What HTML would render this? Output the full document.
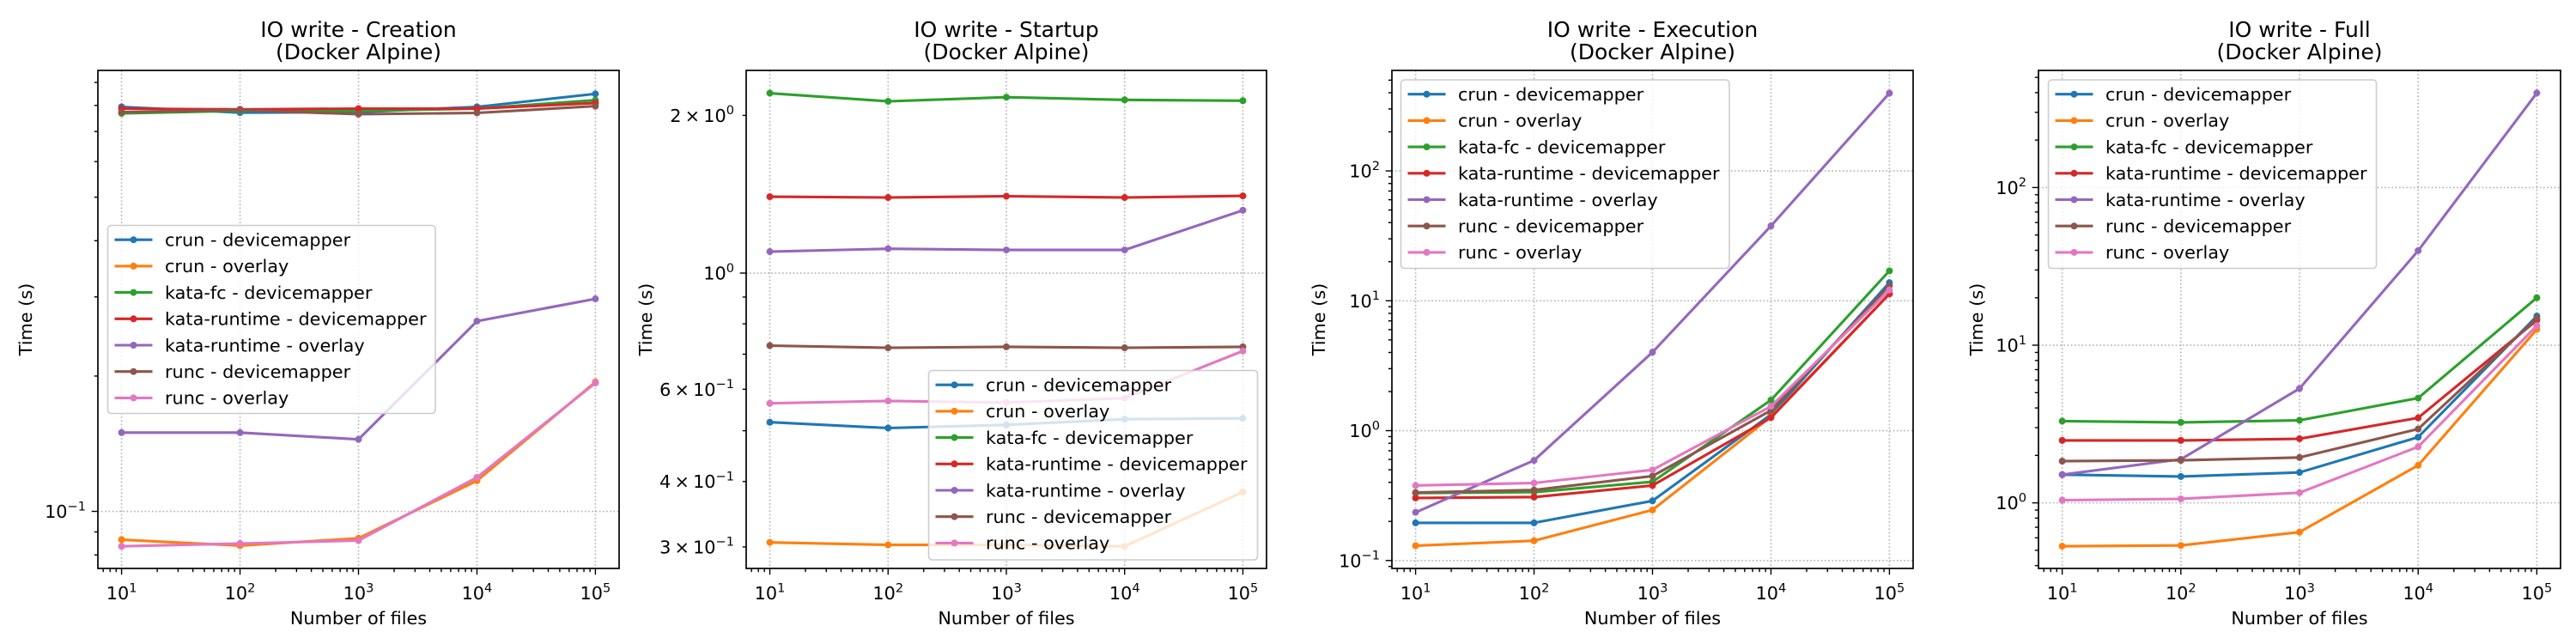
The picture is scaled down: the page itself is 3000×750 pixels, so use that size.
<!DOCTYPE html>
<html><head><meta charset="utf-8"><style>
html,body{margin:0;padding:0;background:#fff;}
svg{display:block;font-family:"DejaVu Sans","Liberation Sans",sans-serif;}
</style></head><body>
<svg id="fig" width="3000" height="750" viewBox="0 0 3000 750" xmlns="http://www.w3.org/2000/svg"></svg>
<script>
const xValues = [10, 100, 1000, 10000, 100000];
const seriesNames = ["crun - devicemapper","crun - overlay","kata-fc - devicemapper","kata-runtime - devicemapper","kata-runtime - overlay","runc - devicemapper","runc - overlay"];
const seriesColors = ["#1f77b4","#ff7f0e","#2ca02c","#d62728","#9467bd","#8c564b","#e377c2"];
const panelTitles = ["IO write - Creation","IO write - Startup","IO write - Execution","IO write - Full"];
const creationData = [
 [0.794,0.771,0.773,0.794,0.849],
 [0.0865,0.0839,0.0871,0.117,0.194],
 [0.768,0.778,0.778,0.787,0.822],
 [0.787,0.784,0.787,0.787,0.810],
 [0.1497,0.1497,0.1446,0.265,0.297],
 [0.773,0.781,0.765,0.770,0.797],
 [0.0836,0.0848,0.0861,0.119,0.193]];
const startupData = [
 [0.519,0.506,0.513,0.526,0.528],
 [0.306,0.3026,0.3026,0.3007,0.382],
 [2.206,2.128,2.167,2.142,2.134],
 [1.399,1.394,1.402,1.394,1.404],
 [1.099,1.113,1.107,1.107,1.318],
 [0.727,0.720,0.723,0.720,0.723],
 [0.564,0.570,0.566,0.577,0.710]];
const executionData = [
 [0.195,0.195,0.288,1.33,13.8],
 [0.130,0.142,0.245,1.28,11.3],
 [0.331,0.336,0.404,1.72,17.0],
 [0.303,0.308,0.378,1.26,11.3],
 [0.235,0.59,4.02,37.7,397],
 [0.334,0.349,0.447,1.43,13.1],
 [0.378,0.395,0.499,1.54,12.1]];
const fullData = [
 [1.51,1.47,1.56,2.61,15.3],
 [0.531,0.537,0.652,1.73,12.6],
 [3.30,3.24,3.34,4.62,20.0],
 [2.49,2.49,2.55,3.46,14.4],
 [1.51,1.89,5.31,39.8,398],
 [1.84,1.86,1.94,2.94,14.8],
 [1.04,1.06,1.16,2.27,13.3]];
const xTickExps = [1,2,3,4,5];
const creationYTicks = [[-1,"10","−1"]];
const startupYTicks = [[Math.log10(2),"2\u2009×\u200910","0"],[0,"10","0"],[Math.log10(0.6),"6\u2009×\u200910","−1"],[Math.log10(0.4),"4\u2009×\u200910","−1"],[Math.log10(0.3),"3\u2009×\u200910","−1"]];
const executionYTicks = [[-1,"10","−1"],[0,"10","0"],[1,"10","1"],[2,"10","2"]];
const fullYTicks = [[0,"10","0"],[1,"10","1"],[2,"10","2"]];

const panels = [
 {data:creationData, yt:creationYTicks, L:114,R:721,T:82,B:662, ylo:-1.127, yhi:-0.019, ylx:30, leg:[125.5,262.5,381.5,219], grid:[-1]},
 {data:startupData, yt:startupYTicks, L:869,R:1475,T:82,B:662, ylo:-0.564, yhi:0.387, ylx:752, leg:[1081.5,431.5,383,220.5], grid:[0]},
 {data:executionData, yt:executionYTicks, L:1621,R:2228,T:82,B:662, ylo:-1.061, yhi:2.774, ylx:1536, leg:[1631.5,93,382.5,219.5], grid:[-1,0,1,2]},
 {data:fullData, yt:fullYTicks, L:2374,R:2982,T:82,B:662, ylo:-0.416, yhi:2.743, ylx:2302, leg:[2385.5,93,382,219.5], grid:[0,1,2]}
];
const NS="http://www.w3.org/2000/svg";
const svg=document.getElementById('fig');
function mk(tag,attrs,parent){const e=document.createElementNS(NS,tag);for(const k in attrs)e.setAttribute(k,attrs[k]);(parent||svg).appendChild(e);return e;}
function mathText(parent,x,y,base,sup,anchor,size){
  const t=mk('text',{x:x,y:y,'font-size':size,'text-anchor':anchor,fill:'#000'},parent);
  const a=mk('tspan',{},t);a.textContent=base;
  const b=mk('tspan',{dy:-size*0.42,'font-size':size*0.7},t);b.textContent=sup;
  return t;
}
panels.forEach((p,pi)=>{
  const g=mk('g',{});
  
  
  const xlo=0.8,xhi=5.2;
  const X=v=>p.L+(Math.log10(v)-xlo)/(xhi-xlo)*(p.R-p.L);
  const XL=l=>p.L+(l-xlo)/(xhi-xlo)*(p.R-p.L);
  const YL=l=>p.B-(l-p.ylo)/(p.yhi-p.ylo)*(p.B-p.T);
  const Y=v=>YL(Math.log10(v));
  xTickExps.forEach(e=>{const gl=mk('line',{x1:XL(e),x2:XL(e),y1:p.T,y2:p.B,stroke:'#b0b0b0','stroke-width':1.6,'stroke-dasharray':'1.6 2.6'},g);});
  p.grid.forEach(e=>{const gl=mk('line',{x1:p.L,x2:p.R,y1:YL(e),y2:YL(e),stroke:'#b0b0b0','stroke-width':1.6,'stroke-dasharray':'1.6 2.6'},g);});
  p.data.forEach((s,si)=>{
    const sg=mk('g',{},g);
    
    
    const pts=s.map((v,i)=>X(xValues[i]).toFixed(1)+','+Y(v).toFixed(1)).join(' ');
    mk('polyline',{points:pts,fill:'none',stroke:seriesColors[si],'stroke-width':3.1,'stroke-linejoin':'round','stroke-linecap':'square'},sg);
    s.forEach((v,i)=>{const c=mk('circle',{cx:X(xValues[i]),cy:Y(v),r:4,fill:seriesColors[si]},sg);});
  });
  for(let d=0;d<=5;d++){for(let m=1;m<=9;m++){const l=d+Math.log10(m);if(l<xlo||l>xhi)continue;const len=m===1?7.3:4.2;mk('line',{x1:XL(l),x2:XL(l),y1:p.B,y2:p.B+len,stroke:'#000','stroke-width':1.4},g);}}
  for(let d=-3;d<=3;d++){for(let m=1;m<=9;m++){const l=d+Math.log10(m);if(l<p.ylo||l>p.yhi)continue;const len=m===1?7.3:4.2;mk('line',{x1:p.L-len,x2:p.L,y1:YL(l),y2:YL(l),stroke:'#000','stroke-width':1.4},g);}}
  const fr=mk('rect',{x:p.L,y:p.T,width:p.R-p.L,height:p.B-p.T,fill:'none',stroke:'#000','stroke-width':1.7},g);
  
  xTickExps.forEach(e=>{const t=mathText(g,XL(e),698,"10",String(e),'middle',20.8);});
  p.yt.forEach(tk=>{const t=mathText(g,p.L-14,YL(tk[0])+7.5,tk[1],tk[2],'end',20.8);});
  const cx=(p.L+p.R)/2;
  const t1=mk('text',{x:cx,y:43,'font-size':25,'text-anchor':'middle'},g);t1.textContent=panelTitles[pi];
  
  const t2=mk('text',{x:cx,y:69,'font-size':25,'text-anchor':'middle'},g);t2.textContent="(Docker Alpine)";
  
  const xl=mk('text',{x:cx,y:727,'font-size':20.8,'text-anchor':'middle'},g);xl.textContent="Number of files";
  
  const yc=(p.T+p.B)/2;
  const yl=mk('text',{x:p.ylx+7,y:yc,'font-size':20.8,'text-anchor':'middle',transform:`rotate(-90 ${p.ylx+7} ${yc})`},g);yl.textContent="Time (s)";
  
  const [lx,ly,lw,lh]=p.leg;
  const lg=mk('g',{},g);
  
  mk('rect',{x:lx,y:ly,width:lw,height:lh,rx:4,fill:'rgba(255,255,255,0.8)',stroke:'#cccccc','stroke-width':1.6},lg);
  seriesNames.forEach((n,si)=>{
    const ey=ly+16.7+si*30.7;
    const eg=mk('g',{},lg);
    
    mk('line',{x1:lx+8,x2:lx+52,y1:ey,y2:ey,stroke:seriesColors[si],'stroke-width':3.1},eg);
    mk('circle',{cx:lx+30,cy:ey,r:4,fill:seriesColors[si]},eg);
    const tt=mk('text',{x:lx+66.5,y:ey+7.3,'font-size':20.8},eg);tt.textContent=n;
  });
});
</script>
</body></html>
